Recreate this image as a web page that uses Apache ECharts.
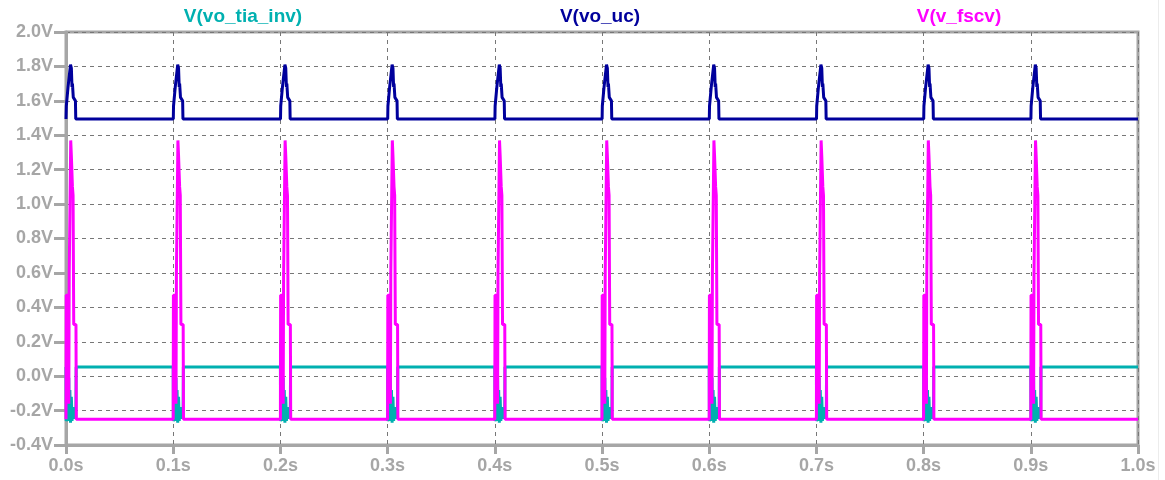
<!DOCTYPE html>
<html>
<head>
<meta charset="utf-8">
<script src="https://cdn.jsdelivr.net/npm/echarts@6/dist/echarts.min.js"></script>
<style>
html,body{margin:0;padding:0;background:#fff;}
#chart{width:1165px;height:480px;}
</style>
</head>
<body>
<div id="chart"></div>
<script>
// ---- data ----
const seriesNames = ['V(vo_tia_inv)', 'V(vo_uc)', 'V(v_fscv)'];
const xTickLabels = ['0.0s','0.1s','0.2s','0.3s','0.4s','0.5s','0.6s','0.7s','0.8s','0.9s','1.0s'];
const yTickLabels = ['-0.4V','-0.2V','0.0V','0.2V','0.4V','0.6V','0.8V','1.0V','1.2V','1.4V','1.6V','1.8V','2.0V'];
const pulseStarts = [0.0, 0.1, 0.2, 0.3, 0.4, 0.5, 0.6, 0.7, 0.8, 0.9];
const tiaBase = 0.053;
const ucBase = 1.494;
const fscvBase = -0.25;
// [time offset from pulse start (s), volts]
const tiaPulse = [[0.0,0.053],[0.0002,-0.26],[0.0018,-0.24],[0.0026,-0.01],[0.0030,-0.26],[0.0036,-0.08],[0.0042,-0.27],[0.0050,-0.12],[0.0056,-0.26],[0.0064,-0.18],[0.0072,-0.24],[0.0092,-0.24],[0.0095,0.053]];
const ucPulse = [[0.0001,1.494],[0.0003,1.57],[0.0016,1.58],[0.0019,1.68],[0.0042,1.81],[0.0050,1.79],[0.0056,1.68],[0.0060,1.70],[0.0068,1.62],[0.0088,1.60],[0.0091,1.494]];
const fscvPulse = [[0.0,-0.25],[0.0002,0.47],[0.0022,0.47],[0.0026,-0.16],[0.0030,0.60],[0.0044,1.37],[0.0050,1.28],[0.0060,1.10],[0.0066,1.05],[0.0072,0.30],[0.0093,0.30],[0.0096,-0.25]];
const tEnd = 1.0;

function build(base, pulse){
  const out = [[0, base]];
  pulseStarts.forEach(s => pulse.forEach(p => out.push([s + p[0], p[1]])));
  out.push([tEnd, base]);
  return out;
}

const colors = ['#00b0b0', '#00009c', '#ff00ff'];
const gray = '#a6a6a6';
const labelFont = 'Liberation Sans, Arial, sans-serif';
const chart = echarts.init(document.getElementById('chart'));
chart.setOption({
  animation: false,
  backgroundColor: '#ffffff',
  grid: {left: 66, right: 27, top: 32, bottom: 35, show: true, borderColor: gray, borderWidth: 3, backgroundColor: 'transparent'},
  xAxis: {
    type: 'value', min: 0, max: 1, interval: 0.1,
    axisLine: {show: true, onZero: false, lineStyle: {color: gray, width: 3}},
    axisTick: {show: true, length: 9, lineStyle: {color: gray, width: 3}},
    axisLabel: {color: gray, fontFamily: labelFont, fontWeight: 'bold', fontSize: 18, margin: 12,
      formatter: (v) => xTickLabels[Math.round(v * 10)]},
    splitLine: {show: true, lineStyle: {color: '#777', width: 1, type: [4, 4]}}
  },
  yAxis: {
    type: 'value', min: -0.4, max: 2.0, interval: 0.2,
    axisLine: {show: true, onZero: false, lineStyle: {color: gray, width: 3}},
    axisTick: {show: true, length: 12, lineStyle: {color: gray, width: 3}},
    axisLabel: {color: gray, fontFamily: labelFont, fontWeight: 'bold', fontSize: 18, margin: 13,
      formatter: (v) => yTickLabels[Math.round((v + 0.4) * 5)]},
    splitLine: {show: true, lineStyle: {color: '#777', width: 1, type: [4, 4]}}
  },
  graphic: [
    {type: 'text', x: 243, y: 17, style: {text: seriesNames[0], fill: colors[0], font: 'bold 19px "Liberation Sans", Arial, sans-serif', textAlign: 'center', textVerticalAlign: 'middle'}},
    {type: 'text', x: 600, y: 17, style: {text: seriesNames[1], fill: colors[1], font: 'bold 19px "Liberation Sans", Arial, sans-serif', textAlign: 'center', textVerticalAlign: 'middle'}},
    {type: 'text', x: 959, y: 17, style: {text: seriesNames[2], fill: colors[2], font: 'bold 19px "Liberation Sans", Arial, sans-serif', textAlign: 'center', textVerticalAlign: 'middle'}},
    {type: 'line', shape: {x1: 1158.5, y1: 0, x2: 1158.5, y2: 480}, style: {stroke: '#ececec', lineWidth: 1}}
  ],
  series: [
    {name: seriesNames[0], type: 'line', data: build(tiaBase, tiaPulse), showSymbol: false, symbol: 'none',
      lineStyle: {color: colors[0], width: 3}, z: 3},
    {name: seriesNames[1], type: 'line', data: build(ucBase, ucPulse), showSymbol: false, symbol: 'none',
      lineStyle: {color: colors[1], width: 3}, z: 4},
    {name: seriesNames[2], type: 'line', data: build(fscvBase, fscvPulse), showSymbol: false, symbol: 'none',
      lineStyle: {color: colors[2], width: 3}, z: 5}
  ]
});
</script>
</body>
</html>
